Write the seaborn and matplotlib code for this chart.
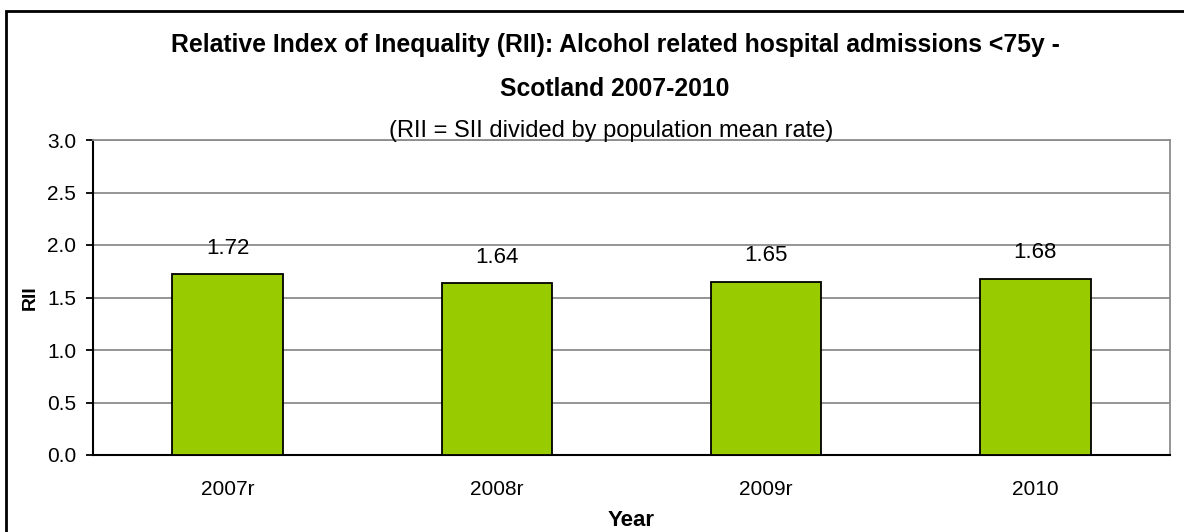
import numpy as np
import pandas as pd
import matplotlib
matplotlib.use('Agg')
import matplotlib.pyplot as plt
from matplotlib.patches import Rectangle
import seaborn as sns

# ============================================================================
# DATA
# ============================================================================

years = ['2007r', '2008r', '2009r', '2010']
rii_values = [1.72, 1.64, 1.65, 1.68]
y_ticks = [0.0, 0.5, 1.0, 1.5, 2.0, 2.5, 3.0]

TITLE = 'Relative Index of Inequality (RII): Alcohol related hospital admissions <75y -\nScotland 2007-2010'
SUBTITLE = '(RII = SII divided by population mean rate)'
BAR_COLOR = '#99CC00'
GRID_COLOR = '#8c8c8c'

# ============================================================================
# PLOT
# ============================================================================

sns.set_theme(style='white')
plt.rcParams['font.family'] = ['Liberation Sans', 'DejaVu Sans']
plt.rcParams['text.color'] = 'black'
plt.rcParams['axes.labelcolor'] = 'black'
plt.rcParams['xtick.color'] = 'black'
plt.rcParams['ytick.color'] = 'black'

df = pd.DataFrame({'Year': years, 'RII': rii_values})

fig = plt.figure(figsize=(11.84, 5.32), dpi=100)
ax = fig.add_axes([93 / 1184, 1 - 455 / 532, (1170 - 93) / 1184, (455 - 140) / 532])

sns.barplot(data=df, x='Year', y='RII', color=BAR_COLOR, saturation=1,
            edgecolor='black', linewidth=1.3, width=0.41, ax=ax, zorder=3)

# value labels above bars
for container in ax.containers:
    ax.bar_label(container, labels=[f'{v:.2f}' for v in rii_values],
                 padding=11, fontsize=16, color='black')

ax.set_ylim(0, 3.0)
ax.set_xlim(-0.5, 3.5)
ax.set_yticks(y_ticks)
ax.set_yticklabels([f'{t:.1f}' for t in y_ticks], fontsize=15)
ax.yaxis.grid(True, color=GRID_COLOR, linewidth=1.3, zorder=0)
ax.set_axisbelow(True)

# ticks between categories, labels centred
ax.set_xticks(np.arange(len(years)))
ax.set_xticklabels(years, fontsize=15)
ax.set_xticks(np.arange(-0.5, len(years)), minor=True)
ax.tick_params(axis='x', which='major', length=0, pad=18)
ax.tick_params(axis='x', which='minor', length=5, width=1.3, color='black', direction='out')
ax.tick_params(axis='y', length=5, width=1.3, color='black', direction='out', left=True, pad=7)

ax.set_xlabel('Year', fontsize=16, fontweight='bold', labelpad=8)
ax.set_ylabel('RII', fontsize=14, fontweight='bold', labelpad=6)

for side in ['left', 'bottom']:
    ax.spines[side].set_color('black')
    ax.spines[side].set_linewidth(1.5)
for side in ['top', 'right']:
    ax.spines[side].set_color(GRID_COLOR)
    ax.spines[side].set_linewidth(1.3)

fig.text(615 / 1184, 1 - 67 / 532, TITLE, ha='center', va='center',
         fontsize=17.8, fontweight='bold', linespacing=2.05)
fig.text(611 / 1184, 1 - 131 / 532, SUBTITLE, ha='center', va='center', fontsize=17)

# outer chart frame
fig.patches.append(Rectangle((6 / 1184, -0.1), 1.2, 1 - 11 / 532 + 0.1,
                             transform=fig.transFigure, fill=False,
                             edgecolor='black', linewidth=2))

fig.savefig('out.png', dpi=100, facecolor='white')
